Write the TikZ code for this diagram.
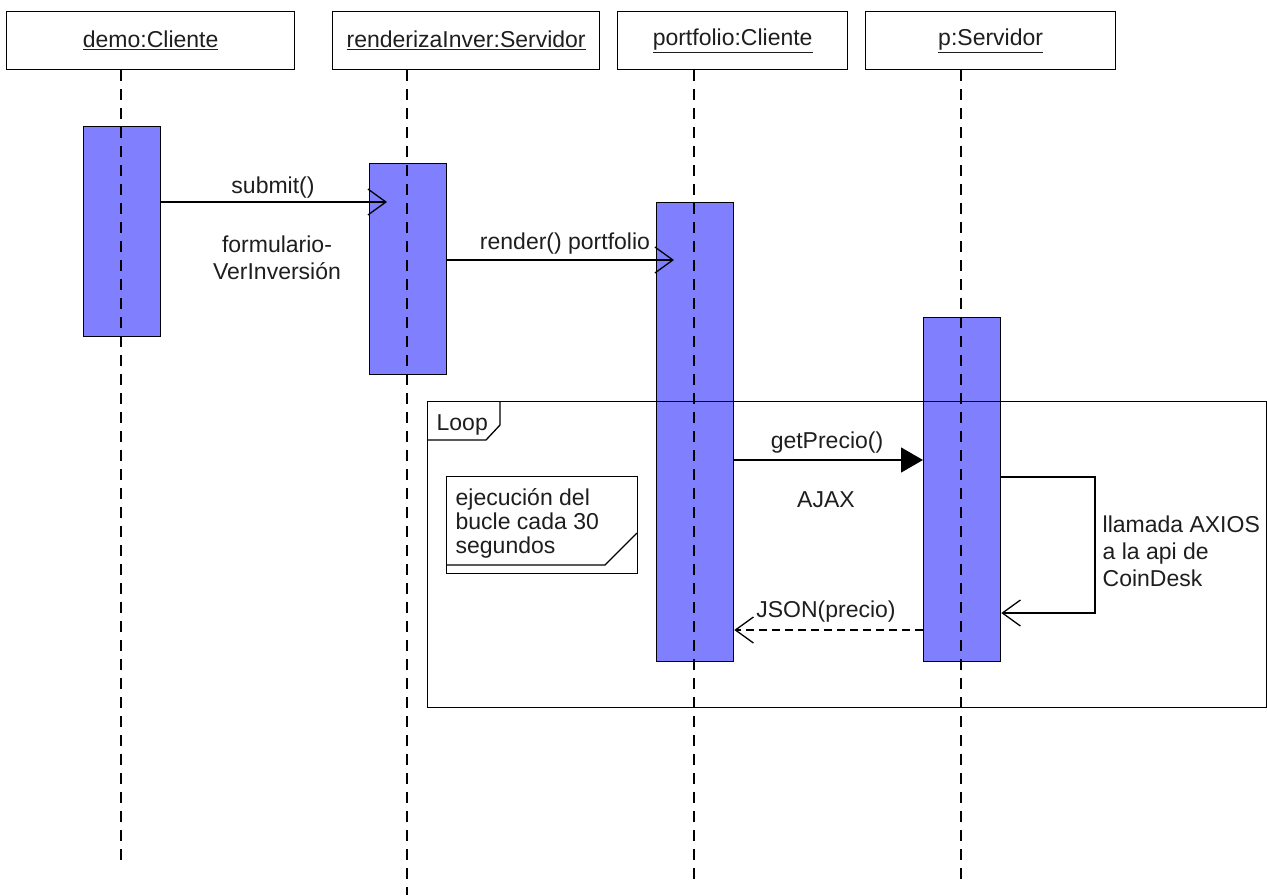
\documentclass[tikz,border=0pt]{standalone}
\usepackage{fontspec}
\setmainfont{Liberation Sans}
\usetikzlibrary{arrows.meta}

\definecolor{actfill}{RGB}{128,128,255}
\definecolor{ink}{RGB}{30,30,30}

\begin{document}
\begin{tikzpicture}[x=1pt,y=-1pt,line width=1.3pt,
  txt/.style={font=\fontsize{23}{27}\selectfont,text=ink,inner sep=0pt},
  header/.style={draw,fill=white,minimum height=58pt,anchor=north west,txt},
  act/.style={draw,fill=actfill,minimum width=77pt,anchor=north west,inner sep=0pt},
  lifeline/.style={dash pattern=on 11pt off 8pt},
  msg/.style={-{Straight Barb[length=18pt,width=26pt,line width=1.3pt]},line join=miter},
  sync/.style={-{Triangle[length=22pt,width=25pt]}},
  reply/.style={msg,dash pattern=on 8pt off 5pt},
  frame/.style={draw,anchor=north west,inner sep=0pt}]

\useasboundingbox (0,0) rectangle (1267,895);

% object headers
\node[header,minimum width=288pt] (hDemo) at (6,11) {\underline{demo:Cliente}};
\node[header,minimum width=267pt] (hRend) at (332,11) {\underline{renderizaInver:Servidor}};
\node[header,minimum width=230pt] (hPort) at (617,11) {\underline{portfolio:Cliente}};
\node[header,minimum width=250pt] (hP) at (865,11) {\underline{p:Servidor}};

% activation bars
\node[act,minimum height=210pt] (aDemo) at (83,126) {};
\node[act,minimum height=211pt] (aRend) at (369,163) {};
\node[act,minimum height=459pt] (aPort) at (656,202) {};
\node[act,minimum height=344pt] (aP) at (923,317) {};

% lifelines
\coordinate (eDemo) at (121,860);
\coordinate (eRend) at (407,895);
\coordinate (ePort) at (694,885);
\coordinate (eP) at (961,885);
\draw[lifeline] (eDemo |- hDemo.south) -- (eDemo);
\draw[lifeline] (eRend |- hRend.south) -- (eRend);
\draw[lifeline] (ePort |- hPort.south) -- (ePort);
\draw[lifeline] (eP |- hP.south) -- (eP);

% submit
\coordinate (submitEnd) at (387,202);
\draw[msg] (aDemo.east |- submitEnd) -- (submitEnd);
\node[txt] (lSubmit) at (273,188) {submit()};
\node[txt,align=center] (lForm) at (277,258) {formulario-\\VerInversión};

% render
\coordinate (renderEnd) at (674,260);
\draw[msg] (aRend.east |- renderEnd) -- (renderEnd);
\node[txt] (lRender) at (565,244) {render() portfolio};

% loop fragment
\node[frame,minimum width=839pt,minimum height=306pt] (loop) at (427,401) {};
\coordinate (tabA) at (500,401);
\coordinate (tabB) at (500,425);
\coordinate (tabC) at (486,440);
\coordinate (tabD) at (427,440);
\draw (tabA) -- (tabB) -- (tabC) -- (tabD);
\node[txt,anchor=west] (lLoop) at (436,425) {Loop};

% note
\node[frame,fill=white,minimum width=191pt,minimum height=97pt] (note) at (446,476) {};
\coordinate (foldA) at (446,565);
\coordinate (foldB) at (605,565);
\coordinate (foldC) at (637,533);
\draw (foldA) -- (foldB) -- (foldC);
\node[txt,anchor=west,align=left,font=\fontsize{23}{24}\selectfont] (lNote) at (455,523)
  {ejecución del\\bucle cada 30\\segundos};

% getPrecio
\coordinate (getY) at (0,460);
\draw[sync] (aPort.east |- getY) -- (aP.west |- getY);
\node[txt] (lGet) at (827,443) {getPrecio()};
\node[txt] (lAjax) at (826,500) {AJAX};

% self call
\coordinate (selfA) at (1095,477);
\coordinate (selfB) at (1095,613);
\draw[msg] (aP.east |- selfA) -- (selfA) -- (selfB) -- (aP.east |- selfB);
\node[txt,anchor=west,align=left] (lSelf) at (1102,551) {llamada AXIOS\\a la api de\\CoinDesk};

% reply
\coordinate (jsonY) at (0,630);
\draw[reply] (aP.west |- jsonY) -- (aPort.east |- jsonY);
\node[txt] (lJson) at (826,612) {JSON(precio)};

\end{tikzpicture}
\end{document}
